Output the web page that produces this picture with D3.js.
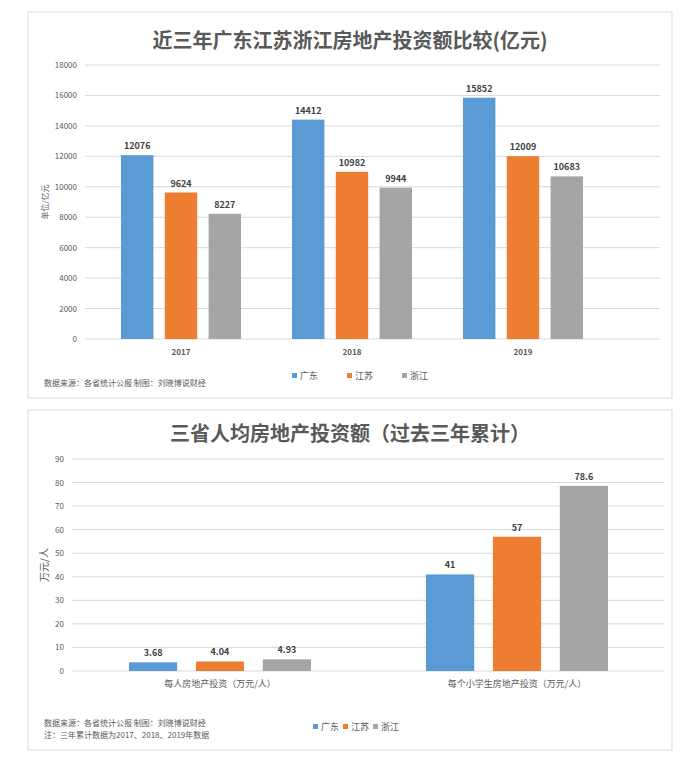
<!DOCTYPE html>
<html><head><meta charset="utf-8">
<script src="https://cdn.jsdelivr.net/npm/d3@7"></script>
<style>body{margin:0;background:#fff;font-family:"Noto Sans CJK SC","Noto Sans",sans-serif}</style>
</head><body><svg id="c" width="683" height="760"></svg>
<script>
// data
const provinces = ["广东", "江苏", "浙江"];
const colors = ["#5b9bd5", "#ed7d31", "#a5a5a5"];
const years = ["2017", "2018", "2019"];
const invest = [[12076, 9624, 8227], [14412, 10982, 9944], [15852, 12009, 10683]];
const yTicks1 = d3.range(0, 18001, 2000);
const perCats = ["每人房地产投资（万元/人）", "每个小学生房地产投资（万元/人）"];
const perVals = [[3.68, 4.04, 4.93], [41, 57, 78.6]];
const yTicks2 = d3.range(0, 91, 10);

const svg = d3.select("#c");

function panel(o) {
  const g = svg.append("g");
  g.append("rect").attr("x", o.box[0]).attr("y", o.box[1]).attr("width", o.box[2]).attr("height", o.box[3])
    .attr("fill", "#fff").attr("stroke", "#d9d9d9");
  g.append("text").attr("x", o.box[0] + o.box[2] / 2).attr("y", o.titleY).attr("text-anchor", "middle")
    .attr("font-size", 20).attr("font-weight", "bold").attr("fill", "#595959").text(o.title);
  const y = d3.scaleLinear().domain([0, o.max]).range([o.y0, o.y1]);
  const x = d3.scaleBand().domain(o.cats).range([o.x0, o.x1]);
  g.selectAll(".grid").data(o.ticks).join("line").attr("x1", o.gx0).attr("x2", o.gx1)
    .attr("y1", d => y(d)).attr("y2", d => y(d)).attr("stroke", "#d9d9d9");
  g.selectAll(".yt").data(o.ticks).join("text").attr("x", o.gx0 - 8).attr("y", d => y(d) + 3)
    .attr("text-anchor", "end").attr("font-size", 8).attr("fill", "#595959").text(d => d);
  g.selectAll(".xt").data(o.cats).join("text").attr("x", d => x(d) + x.bandwidth() / 2).attr("y", o.y0 + 16)
    .attr("text-anchor", "middle").attr("font-size", o.catSize).attr("font-weight", o.catWeight).attr("fill", "#595959").text(d => d);
  g.append("text").attr("transform", `translate(${o.ylabX},${(o.y0 + o.y1) / 2}) rotate(-90)`)
    .attr("text-anchor", "middle").attr("font-size", o.ylabSize).attr("fill", "#595959").text(o.ylab);
  const xi = d3.scaleBand().domain(d3.range(3)).range([0, o.groupW]).paddingInner(o.inner);
  o.vals.forEach((vs, ci) => {
    const gx = x(o.cats[ci]) + (x.bandwidth() - o.groupW) / 2;
    vs.forEach((v, si) => {
      g.append("rect").attr("x", gx + xi(si)).attr("y", y(v)).attr("width", xi.bandwidth())
        .attr("height", o.y0 - y(v)).attr("fill", colors[si]);
      g.append("text").attr("x", gx + xi(si) + xi.bandwidth() / 2).attr("y", y(v) - 6)
        .attr("text-anchor", "middle").attr("font-size", 9).attr("font-weight", "bold").attr("fill", "#404040").text(v);
    });
  });
  o.notes.forEach((t, i) => g.append("text").attr("x", o.box[0] + 16).attr("y", o.noteY + i * 12)
    .attr("font-size", 8).attr("fill", "#595959").text(t));
  const lg = g.append("g").attr("transform", `translate(${o.legX},${o.legY})`);
  provinces.forEach((p, i) => {
    lg.append("rect").attr("x", i * o.legStep).attr("y", -6).attr("width", 5).attr("height", 5).attr("fill", colors[i]);
    lg.append("text").attr("x", i * o.legStep + 8).attr("y", 0).attr("font-size", 9).attr("fill", "#595959").text(p);
  });
}

panel({box: [28, 12, 644, 386], title: "近三年广东江苏浙江房地产投资额比较(亿元)", titleY: 48,
  max: 18000, ticks: yTicks1, y0: 339, y1: 65, x0: 95.5, x1: 608.5, gx0: 85, gx1: 660, cats: years, vals: invest,
  groupW: 120, inner: 0.26, catSize: 8, catWeight: "bold", ylab: "单位/亿元", ylabX: 48, ylabSize: 8,
  notes: ["数据来源：各省统计公报   制图：刘晓博说财经"], noteY: 386, legX: 292, legY: 379, legStep: 55});

panel({box: [28, 410, 644, 340], title: "三省人均房地产投资额（过去三年累计）", titleY: 441,
  max: 90, ticks: yTicks2, y0: 671, y1: 459, x0: 71.5, x1: 665.5, gx0: 72, gx1: 664, cats: perCats, vals: perVals,
  groupW: 182, inner: 0.28, catSize: 9, catWeight: "normal", ylab: "万元/人", ylabX: 48, ylabSize: 10,
  notes: ["数据来源：各省统计公报 制图：刘晓博说财经", "注：三年累计数据为2017、2018、2019年数据"], noteY: 726,
  legX: 313, legY: 730, legStep: 30});
</script></body></html>
